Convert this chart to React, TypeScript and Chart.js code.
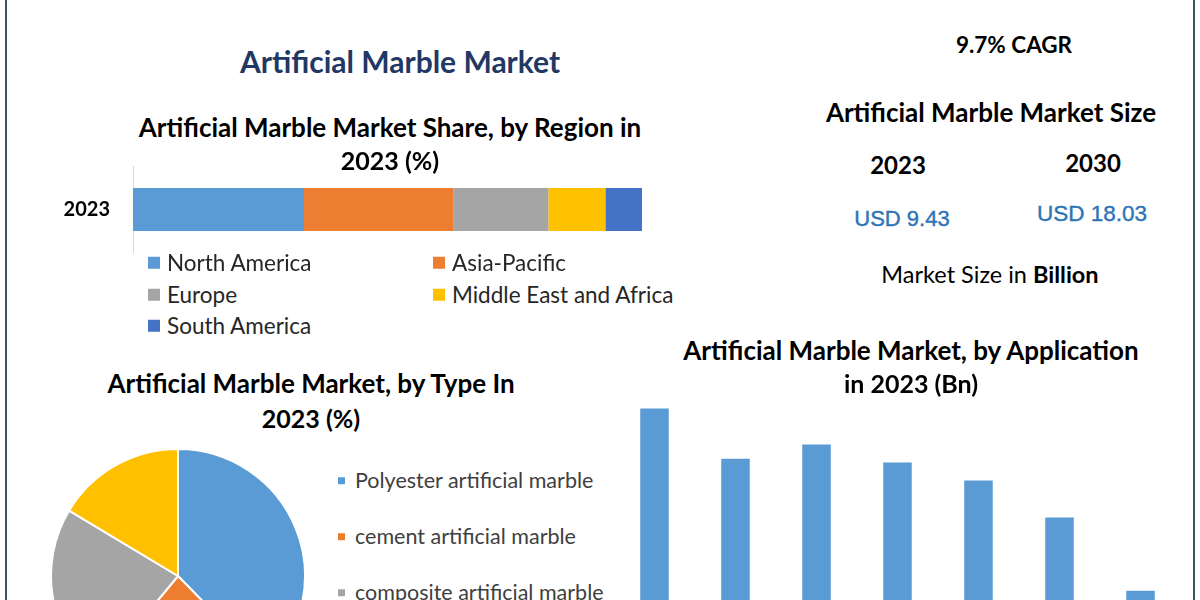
import React, { useEffect, useRef } from "react";
import { Chart, registerables } from "chart.js";

Chart.register(...registerables);

// ---------- data ----------
const regionYear = ["2023"];
const regionLabels = ["North America", "Asia-Pacific", "Europe", "Middle East and Africa", "South America"];
const regionShares = [33.6, 29.3, 18.7, 11.2, 7.2];
const regionColors = ["#5B9BD5", "#ED7D31", "#A5A5A5", "#FFC000", "#4472C4"];

const typeLabels = [
  "Polyester artificial marble",
  "cement artificial marble",
  "composite artificial marble",
  "sintered artificial marble",
];
const typeShares = [37.7, 23.3, 22.6, 16.4];
const typeColors = ["#5B9BD5", "#ED7D31", "#A5A5A5", "#FFC000"];

const appLabels = ["Kitchen Countertops", "Bathroom Vanities", "Flooring", "Wall Cladding", "Furniture", "Decoration", "Others"];
const appValues = [1.93, 1.51, 1.63, 1.48, 1.33, 1.02, 0.41];
const appColor = "#5B9BD5";

const FONT = "Lato, 'Open Sans', sans-serif";

function Txt(props: { x: number; y: number; size: number; bold?: boolean; color?: string; family?: string; stroke?: number; children: any }) {
  const { x, y, size, bold, color, family, stroke, children } = props;
  return (
    <div
      style={{
        position: "absolute",
        left: x,
        top: y,
        transform: "translate(-50%, -50%)",
        whiteSpace: "nowrap",
        fontFamily: family || FONT,
        fontSize: size,
        fontWeight: bold ? 700 : 400,
        color: color || "#000",
        lineHeight: 1,
        zIndex: 2,
        WebkitTextStroke: stroke ? `${stroke}px ${color || "#000"}` : undefined,
      }}
    >
      {children}
    </div>
  );
}

function RegionBar() {
  const ref = useRef<HTMLCanvasElement>(null);
  useEffect(() => {
    const chart = new Chart(ref.current!, {
      type: "bar",
      data: {
        labels: regionYear,
        datasets: regionLabels.map((l, i) => ({
          label: l,
          data: [regionShares[i]],
          backgroundColor: regionColors[i],
          borderWidth: 0,
          stack: "region",
          categoryPercentage: 1,
          barPercentage: 0.494,
        })),
      },
      options: {
        indexAxis: "y",
        animation: false,
        responsive: false,
        maintainAspectRatio: false,
        layout: { padding: 0 },
        plugins: { legend: { display: false }, tooltip: { enabled: false }, title: { display: false } },
        scales: {
          x: {
            display: false,
            stacked: true,
            min: 0,
            max: regionShares.reduce((a, b) => a + b, 0),
          },
          y: {
            stacked: true,
            grid: { display: false, drawTicks: false },
            border: { display: true, color: "#D9D9D9", width: 1 },
            ticks: { color: "#000", padding: 23, font: { family: FONT, size: 20, weight: "bold" } },
            afterFit: (s: any) => {
              s.width = 83;
              s.paddingTop = 0;
              s.paddingBottom = 0;
            },
          },
        },
      },
    });
    return () => chart.destroy();
  }, []);
  return <canvas ref={ref} width={592} height={87} style={{ position: "absolute", left: 50, top: 166, width: 592, height: 87 }} />;
}

function TypePie() {
  const ref = useRef<HTMLCanvasElement>(null);
  useEffect(() => {
    const chart = new Chart(ref.current!, {
      type: "pie",
      data: {
        labels: typeLabels,
        datasets: [
          {
            data: typeShares,
            backgroundColor: typeColors,
            borderColor: "#FFFFFF",
            borderWidth: 2,
          },
        ],
      },
      options: {
        animation: false,
        responsive: false,
        maintainAspectRatio: false,
        layout: { padding: 0 },
        plugins: { legend: { display: false }, tooltip: { enabled: false } },
      },
    });
    return () => chart.destroy();
  }, []);
  return <canvas ref={ref} width={256} height={256} style={{ position: "absolute", left: 50, top: 448, width: 256, height: 256 }} />;
}

function AppBars() {
  const ref = useRef<HTMLCanvasElement>(null);
  useEffect(() => {
    const chart = new Chart(ref.current!, {
      type: "bar",
      data: {
        labels: appLabels,
        datasets: [
          {
            data: appValues,
            backgroundColor: appColor,
            borderWidth: 0,
            categoryPercentage: 1,
            barPercentage: 0.352,
          },
        ],
      },
      options: {
        animation: false,
        responsive: false,
        maintainAspectRatio: false,
        layout: { padding: 0 },
        plugins: { legend: { display: false }, tooltip: { enabled: false } },
        scales: {
          x: { display: false },
          y: { display: false, min: 0, max: 2.2 },
        },
      },
    });
    return () => chart.destroy();
  }, []);
  return <canvas ref={ref} width={567} height={264} style={{ position: "absolute", left: 614, top: 376, width: 567, height: 264 }} />;
}

function LegendItem(props: { x: number; y: number; color: string; label: string; box: number; gap: number; size: number; color2: string }) {
  const { x, y, color, label, box, gap, size, color2 } = props;
  return (
    <div style={{ position: "absolute", left: x, top: y, transform: "translateY(-50%)", display: "flex", alignItems: "center", whiteSpace: "nowrap", zIndex: 2 }}>
      <div style={{ width: box, height: box, background: color, marginRight: gap }} />
      <span style={{ fontFamily: FONT, fontSize: size, color: color2, lineHeight: 1 }}>{label}</span>
    </div>
  );
}

export default function App() {
  const regionPos = [
    [148, 263],
    [433, 263],
    [148, 295],
    [433, 295],
    [148, 326],
  ];
  const typePos = [481, 537, 593, 649];
  return (
    <div style={{ position: "absolute", left: 0, top: 0, width: 1200, height: 600, overflow: "hidden", background: "#fff" }}>
      <div style={{ position: "absolute", left: 5, top: 0, width: 2, height: 600, background: "#3A5566" }} />
      <div style={{ position: "absolute", left: 1193, top: 0, width: 2, height: 600, background: "#3A5566" }} />

      <Txt x={400} y={61} size={30} bold color="#1F3864">Artificial Marble Market</Txt>
      <Txt x={390} y={127} size={26} bold>Artificial Marble Market Share, by Region in</Txt>
      <Txt x={390} y={160} size={25} bold>2023 (%)</Txt>

      <RegionBar />
      {regionLabels.map((l, i) => (
        <LegendItem key={l} x={regionPos[i][0]} y={regionPos[i][1]} color={regionColors[i]} label={l} box={12} gap={7} size={22.5} color2="#262626" />
      ))}

      <Txt x={1014} y={45} size={22.5} bold>9.7% CAGR</Txt>
      <Txt x={991} y={112} size={26} bold>Artificial Marble Market Size</Txt>
      <Txt x={898} y={165} size={24} bold>2023</Txt>
      <Txt x={1093} y={163} size={24} bold>2030</Txt>
      <Txt x={902} y={219} size={22} color="#2E75B6" stroke={0.4} family="'Liberation Sans', Arial, sans-serif">USD 9.43</Txt>
      <Txt x={1092} y={214} size={22.5} color="#2E75B6" stroke={0.4} family="'Liberation Sans', Arial, sans-serif">USD 18.03</Txt>
      <Txt x={990} y={275} size={23.5}>
        Market Size in <b>Billion</b>
      </Txt>

      <Txt x={311} y={383} size={26} bold>Artificial Marble Market, by Type In</Txt>
      <Txt x={311} y={418} size={25} bold>2023 (%)</Txt>
      <TypePie />
      {typeLabels.map((l, i) => (
        <LegendItem key={l} x={338} y={typePos[i]} color={typeColors[i]} label={l} box={7} gap={10} size={21.5} color2="#404040" />
      ))}

      <Txt x={911} y={350} size={26} bold>Artificial Marble Market, by Application</Txt>
      <Txt x={911} y={383} size={25} bold>in 2023 (Bn)</Txt>
      <AppBars />
    </div>
  );
}
